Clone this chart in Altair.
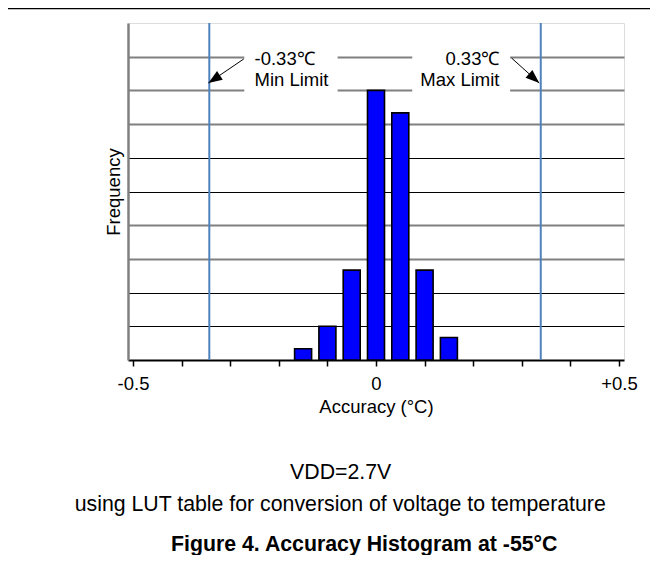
import math
import altair as alt
import pandas as pd

# ---- data ----
bin_centers = [-0.15, -0.10, -0.05, 0.0, 0.05, 0.10, 0.15]
counts = [1, 3, 8, 24, 22, 8, 2]

limit_lines = [-0.343, 0.339]

x_tick_values = [-0.5, -0.45, -0.4, -0.35, -0.3, -0.25, -0.2, -0.15, -0.1, -0.05,
                 0.0, 0.05, 0.1, 0.15, 0.2, 0.25, 0.3, 0.35, 0.4, 0.45, 0.5]
x_label_values = [-0.5, 0.0, 0.5]
x_label_texts = ["-0.5", "0", "+0.5"]

y_grid_values = [3, 6, 9, 12, 15, 18, 21, 24, 27]
y_grid_gray = [9, 12, 21, 24, 27]

# annotation boxes (data units)
box_x = [-0.271, 0.0746]
box_x2 = [-0.079, 0.276]
box_y = [23.2, 23.2]
box_y2 = [28.0, 28.0]

left_texts = ["-0.33\u2103", "Min Limit"]
left_x = [-0.25, -0.25]
left_y = [26.29, 24.42]

right_texts = ["0.33\u2103", "Max Limit"]
right_x = [0.254, 0.254]
right_y = [26.29, 24.42]

arrow_x = [-0.272, 0.279]
arrow_y = [26.8, 26.88]
arrow_tip_x = [-0.3448, 0.336]
arrow_tip_y = [24.66, 24.66]

note_texts = ["VDD=2.7V", "using LUT table for conversion of voltage to temperature"]
note_x = [-0.0726, -0.0736]
note_y = [-10.59, -13.42]

caption_texts = ["Figure 4. Accuracy Histogram at -55\u00b0C"]
caption_x = [-0.0242]
caption_y = [-16.96]

# ---- layout ----
W, H = 496, 337
FONT = "Liberation Sans"

xscale = alt.Scale(domain=[-0.5, 0.5], nice=False, zero=False)
yscale = alt.Scale(domain=[0, 30], nice=False, zero=True)

label_expr = " : ".join(
    [f"datum.value == {v} ? '{t}'" for v, t in zip(x_label_values, x_label_texts)]
) + " : ''"

gray_test = "indexof([" + ",".join(str(v) for v in y_grid_gray) + "], datum.value) >= 0"

bars_df = pd.DataFrame({"acc": bin_centers, "count": counts})

bars = alt.Chart(bars_df).mark_bar(
    size=17, color="#0000FF", stroke="black", strokeWidth=1.6
).encode(
    x=alt.X("acc:Q", scale=xscale,
            axis=alt.Axis(values=x_tick_values, labelExpr=label_expr, title="Accuracy (\u00b0C)",
                          grid=False, tickSize=6, tickWidth=1.5, tickColor="black",
                          domainColor="black", domainWidth=2, labelFlush=False,
                          labelOverlap=False, labelFontSize=18.5, titleFontSize=18.5,
                          labelColor="black", titleColor="black", titleFontWeight="normal",
                          labelPadding=8, titlePadding=5, labelFont=FONT, titleFont=FONT)),
    y=alt.Y("count:Q", scale=yscale,
            axis=alt.Axis(values=y_grid_values, labels=False, ticks=False, title="Frequency",
                          grid=True,
                          gridColor={"condition": {"test": gray_test, "value": "#808080"}, "value": "#000000"},
                          gridWidth={"condition": {"test": gray_test, "value": 2}, "value": 1},
                          gridOpacity=1,
                          domainColor="#808080", domainWidth=2.5,
                          titleFontSize=18.5, titleColor="black", titleFontWeight="normal",
                          titlePadding=5, titleFont=FONT)),
)

limits = alt.Chart(pd.DataFrame({"lim": limit_lines})).mark_rule(
    color="#4F81BD", strokeWidth=2
).encode(x=alt.X("lim:Q", scale=xscale))

boxes_df = pd.DataFrame({"x": box_x, "x2": box_x2, "y": box_y, "y2": box_y2})
boxes = alt.Chart(boxes_df).mark_rect(color="white").encode(
    x=alt.X("x:Q", scale=xscale), x2="x2:Q",
    y=alt.Y("y:Q", scale=yscale), y2="y2:Q",
)

ltext = alt.Chart(pd.DataFrame({"t": left_texts, "x": left_x, "y": left_y})).mark_text(
    align="left", baseline="alphabetic", fontSize=18.5, font=FONT, color="black"
).encode(x=alt.X("x:Q", scale=xscale), y=alt.Y("y:Q", scale=yscale), text="t:N")

rtext = alt.Chart(pd.DataFrame({"t": right_texts, "x": right_x, "y": right_y})).mark_text(
    align="right", baseline="alphabetic", fontSize=18.5, font=FONT, color="black"
).encode(x=alt.X("x:Q", scale=xscale), y=alt.Y("y:Q", scale=yscale), text="t:N")

arrows_df = pd.DataFrame({"x": arrow_x, "y": arrow_y, "x2": arrow_tip_x, "y2": arrow_tip_y})
arrow_lines = alt.Chart(arrows_df).mark_rule(color="black", strokeWidth=1).encode(
    x=alt.X("x:Q", scale=xscale), y=alt.Y("y:Q", scale=yscale), x2="x2:Q", y2="y2:Q"
)

head_layers = []
for sx, sy, tx, ty in zip(arrow_x, arrow_y, arrow_tip_x, arrow_tip_y):
    dxp = (tx - sx) * W
    dyp = -(ty - sy) * H / 30.0
    ang = math.degrees(math.atan2(dxp, -dyp)) % 360
    head_layers.append(
        alt.Chart(pd.DataFrame({"x": [tx], "y": [ty]})).mark_point(
            shape="M0,0L-0.75,2L0.75,2Z", filled=True, size=190, angle=ang,
            color="black", opacity=1, strokeWidth=0
        ).encode(x=alt.X("x:Q", scale=xscale), y=alt.Y("y:Q", scale=yscale))
    )

notes = alt.Chart(pd.DataFrame({"t": note_texts, "x": note_x, "y": note_y})).mark_text(
    align="center", baseline="alphabetic", fontSize=21.3, font=FONT, color="black"
).encode(x=alt.X("x:Q", scale=xscale), y=alt.Y("y:Q", scale=yscale), text="t:N")

caption = alt.Chart(pd.DataFrame({"t": caption_texts, "x": caption_x, "y": caption_y})).mark_text(
    align="center", baseline="alphabetic", fontSize=21.3, font=FONT, fontWeight="bold", color="black"
).encode(x=alt.X("x:Q", scale=xscale), y=alt.Y("y:Q", scale=yscale), text="t:N")

top_rule = alt.Chart(pd.DataFrame({"a": [0]})).mark_rule(color="black", strokeWidth=1.6).encode(
    x=alt.value(-120), x2=alt.value(530), y=alt.value(-14.6)
)

chart = alt.layer(
    bars, limits, boxes, arrow_lines, *head_layers, ltext, rtext, notes, caption, top_rule
).properties(
    width=W, height=H,
    autosize=alt.AutoSizeParams(type="none"),
    padding={"left": 120, "top": 15, "right": 26, "bottom": 195},
).configure_view(
    stroke="black", strokeWidth=2.5
).configure(font=FONT)

chart.save("out.html", embed_options={"renderer": "svg", "actions": False})
